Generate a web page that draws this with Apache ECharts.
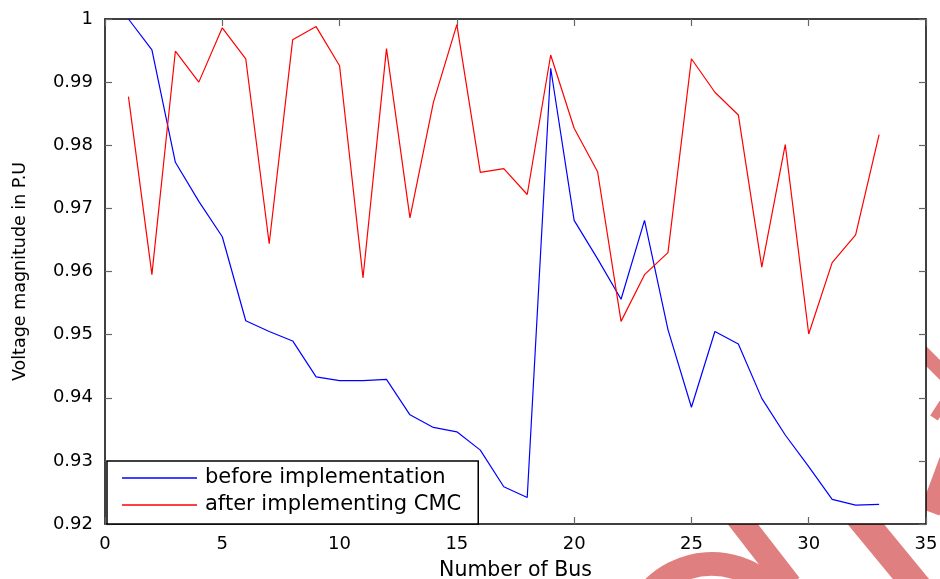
<!DOCTYPE html>
<html>
<head>
<meta charset="utf-8">
<script src="https://cdn.jsdelivr.net/npm/echarts@6/dist/echarts.min.js"></script>
<style>
  html, body { margin: 0; padding: 0; background: #fff; }
  #chart { width: 940px; height: 579px; }
</style>
</head>
<body>
<div id="chart"></div>
<script>
// Bus numbers 1..33 of the distribution feeder
const busNumbers = [1, 2, 3, 4, 5, 6, 7, 8, 9, 10, 11, 12, 13, 14, 15, 16, 17,
  18, 19, 20, 21, 22, 23, 24, 25, 26, 27, 28, 29, 30, 31, 32, 33];

// Voltage magnitude (p.u.) before implementation
const voltageBefore = [1.0000, 0.9951, 0.9773, 0.9711, 0.9655, 0.9522, 0.9505, 0.9490,
  0.9433, 0.9427, 0.9427, 0.9429, 0.9373, 0.9353, 0.9346, 0.9317, 0.9259, 0.9242,
  0.9922, 0.9681, 0.9620, 0.9556, 0.9681, 0.9508, 0.9385, 0.9505, 0.9485, 0.9399,
  0.9341, 0.9291, 0.9239, 0.9230, 0.9231];

// Voltage magnitude (p.u.) after implementing CMC
const voltageAfter = [0.9877, 0.9595, 0.9949, 0.9900, 0.9986, 0.9937, 0.9644, 0.9967,
  0.9988, 0.9926, 0.9590, 0.9953, 0.9685, 0.9868, 0.9991, 0.9757, 0.9763, 0.9722,
  0.9943, 0.9827, 0.9758, 0.9521, 0.9595, 0.9630, 0.9937, 0.9884, 0.9848, 0.9607,
  0.9801, 0.9501, 0.9614, 0.9658, 0.9817];

const seriesNames = ['before implementation', 'after implementing CMC'];
const xTitle = 'Number of Bus';
const yTitle = 'Voltage magnitude in P.U';

const FONT = 'DejaVu Sans';
const wm = '#DF7F7F';

const chart = echarts.init(document.getElementById('chart'), null, { renderer: 'canvas' });

const tickStyle = { show: true, inside: true, length: 7, lineStyle: { color: '#666', width: 1.2 } };
const lineStyleAxis = { show: true, onZero: false, lineStyle: { color: '#000', width: 1.5 } };

chart.setOption({
  backgroundColor: '#fff',
  animation: false,
  // background logo, painted underneath the plot area
  graphic: [
    { type: 'arc', z: -10, shape: { cx: 712, cy: 648, r: 84, startAngle: Math.PI * 1.1, endAngle: Math.PI * 1.75 },
      style: { stroke: wm, lineWidth: 24, fill: null } },
    { type: 'line', z: -10, shape: { x1: 728, y1: 505, x2: 790, y2: 585 }, style: { stroke: wm, lineWidth: 24 } },
    { type: 'line', z: -10, shape: { x1: 850, y1: 505, x2: 920, y2: 590 }, style: { stroke: wm, lineWidth: 28 } },
    { type: 'line', z: -10, shape: { x1: 955, y1: 445, x2: 930, y2: 512 }, style: { stroke: wm, lineWidth: 20 } },
    { type: 'line', z: -10, shape: { x1: 915, y1: 345, x2: 948, y2: 378 }, style: { stroke: wm, lineWidth: 14 } },
    { type: 'line', z: -10, shape: { x1: 948, y1: 396, x2: 934, y2: 418 }, style: { stroke: wm, lineWidth: 9 } }
  ],
  grid: {
    left: 105, right: 14, top: 19, bottom: 55,
    containLabel: false, outerBoundsMode: 'none',
    show: true, backgroundColor: '#fff', borderWidth: 0
  },
  legend: {
    orient: 'vertical',
    left: 107, top: 461,
    padding: [6, 17, 8, 15],
    itemGap: 5,
    icon: 'rect',
    itemWidth: 75, itemHeight: 1.3,
    backgroundColor: '#fff',
    borderColor: '#000', borderWidth: 1.5, borderRadius: 0,
    textStyle: { fontFamily: FONT, fontSize: 21, color: '#000', lineHeight: 22, padding: [0, 0, 0, 3] },
    data: seriesNames
  },
  xAxis: [
    {
      type: 'value', position: 'bottom', min: 0, max: 35, interval: 5,
      name: xTitle, nameLocation: 'middle', nameGap: 36,
      nameTextStyle: { fontFamily: FONT, fontSize: 20.5, color: '#000' },
      axisLine: lineStyleAxis, axisTick: tickStyle,
      axisLabel: { margin: 11, fontFamily: FONT, fontSize: 18, color: '#000' },
      splitLine: { show: false }
    },
    {
      type: 'value', position: 'top', min: 0, max: 35, interval: 5,
      axisLine: lineStyleAxis, axisTick: tickStyle,
      axisLabel: { show: false }, splitLine: { show: false }
    }
  ],
  yAxis: [
    {
      type: 'value', position: 'left', min: 0.92, max: 1, interval: 0.01,
      name: yTitle, nameLocation: 'middle', nameGap: 76,
      nameTextStyle: { fontFamily: FONT, fontSize: 17.5, color: '#000' },
      axisLine: lineStyleAxis, axisTick: tickStyle,
      axisLabel: {
        margin: 12, fontFamily: FONT, fontSize: 18, color: '#000',
        formatter: v => String(+v.toFixed(2))
      },
      splitLine: { show: false }
    },
    {
      type: 'value', position: 'right', min: 0.92, max: 1, interval: 0.01,
      axisLine: lineStyleAxis, axisTick: tickStyle,
      axisLabel: { show: false }, splitLine: { show: false }
    }
  ],
  series: [
    {
      name: seriesNames[0], type: 'line', xAxisIndex: 0, yAxisIndex: 0,
      data: busNumbers.map((b, i) => [b, voltageBefore[i]]),
      symbol: 'none', lineStyle: { color: '#0000FF', width: 1.2 }, itemStyle: { color: '#0000FF' }
    },
    {
      name: seriesNames[1], type: 'line', xAxisIndex: 0, yAxisIndex: 0,
      data: busNumbers.map((b, i) => [b, voltageAfter[i]]),
      symbol: 'none', lineStyle: { color: '#FF0000', width: 1.2 }, itemStyle: { color: '#FF0000' }
    }
  ]
});
</script>
</body>
</html>
